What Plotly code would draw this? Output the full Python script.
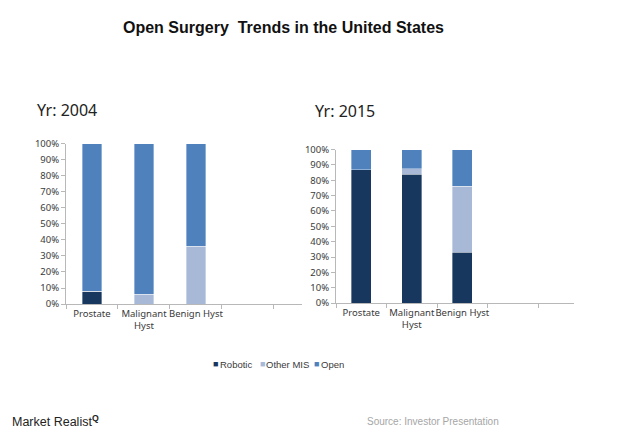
import plotly.graph_objects as go

categories = ["Prostate", "Malignant<br>Hyst", "Benign Hyst"]
y_ticks = [0, 10, 20, 30, 40, 50, 60, 70, 80, 90, 100]
y_tick_labels = ["0%", "10%", "20%", "30%", "40%", "50%", "60%", "70%", "80%", "90%", "100%"]
slot_boundaries = [-0.5, 0.5, 1.5, 2.5, 3.5]

robotic_2004 = [8, 0, 0]
other_2004 = [0, 6, 36]
open_2004 = [92, 94, 64]

robotic_2015 = [87, 84, 33]
other_2015 = [0, 3.5, 43]
open_2015 = [13, 12.5, 24]

series_names = ["Robotic", "Other MIS", "Open"]
colors = ["#17375e", "#a8b9d8", "#4f81bd"]

W, H = 620, 443


def py(ref_px):
    """paper y for a pixel row of the reference (compensates renderer offset)"""
    return 1 - ((ref_px - 7) / 0.967) / H


fig = go.Figure()

for i, (name, vals) in enumerate(zip(series_names, [robotic_2004, other_2004, open_2004])):
    fig.add_trace(go.Bar(x=categories, y=vals, name=name, marker_color=colors[i],
                         marker_line_width=0.6, marker_line_color="rgba(255,255,255,0.6)",
                         width=0.38, xaxis="x", yaxis="y", showlegend=False))
for i, (name, vals) in enumerate(zip(series_names, [robotic_2015, other_2015, open_2015])):
    fig.add_trace(go.Bar(x=categories, y=vals, name=name, marker_color=colors[i],
                         marker_line_width=0.6, marker_line_color="rgba(255,255,255,0.6)",
                         width=0.39, xaxis="x2", yaxis="y2", showlegend=False))

tickfont = dict(family="Noto Sans, Open Sans, sans-serif", size=9.5, color="#3a3a3a")

xcommon = dict(type="category", categoryorder="array", categoryarray=categories,
               ticks="", tickangle=0, showline=True, linecolor="#b8b8b8", linewidth=1,
               showgrid=False, tickfont=tickfont, zeroline=False, fixedrange=True)
xticks_only = dict(type="linear", tickvals=slot_boundaries, showticklabels=False,
                   ticks="outside", ticklen=4, tickcolor="#b8b8b8", showline=False,
                   showgrid=False, zeroline=False, fixedrange=True)
ycommon = dict(range=[0, 100], tickvals=y_ticks, ticktext=y_tick_labels, ticks="outside",
               ticklen=4, tickcolor="#b8b8b8", showline=True, linecolor="#b8b8b8",
               linewidth=1, showgrid=False, zeroline=False, tickfont=tickfont,
               fixedrange=True)

d1 = [66/W, 302/W]
d2 = [336/W, 574/W]
r1 = [-0.5, 4.04]
r2 = [-0.5, 4.21]

fig.update_layout(
    width=W, height=H,
    margin=dict(l=0, r=0, t=0, b=0),
    paper_bgcolor="white", plot_bgcolor="white",
    barmode="stack",
    xaxis=dict(domain=d1, range=r1, anchor="y", **xcommon),
    yaxis=dict(domain=[py(303), py(143)], anchor="x", **ycommon),
    xaxis2=dict(domain=d2, range=r2, anchor="y2", **xcommon),
    yaxis2=dict(domain=[py(302), py(149)], anchor="x2", **ycommon),
    xaxis3=dict(domain=d1, range=r1, anchor="y", overlaying="x", **xticks_only),
    xaxis4=dict(domain=d2, range=r2, anchor="y2", overlaying="x2", **xticks_only),
    showlegend=False,
)

# invisible helper traces so the tick-only axes are drawn
fig.add_trace(go.Scatter(x=[slot_boundaries[0]], y=[0], xaxis="x3", yaxis="y",
                         mode="markers", marker_opacity=0, showlegend=False, hoverinfo="skip"))
fig.add_trace(go.Scatter(x=[slot_boundaries[0]], y=[0], xaxis="x4", yaxis="y2",
                         mode="markers", marker_opacity=0, showlegend=False, hoverinfo="skip"))

arial = "Liberation Sans, Arial, sans-serif"
annotations = [
    dict(text="<b>Open Surgery  Trends in the United States</b>", x=283/W, y=py(27),
         font=dict(family=arial, size=16, color="#111111")),
    dict(text="Yr: 2004", x=35/W, y=py(110), xanchor="left",
         font=dict(family="Noto Sans, Open Sans, sans-serif", size=16, color="#222222")),
    dict(text="Yr: 2015", x=313/W, y=py(111), xanchor="left",
         font=dict(family="Noto Sans, Open Sans, sans-serif", size=16, color="#222222")),
    dict(text="Market Realist<sup><b>Q</b></sup>", x=10/W, y=py(419), xanchor="left",
         font=dict(family=arial, size=12.5, color="#222222")),
    dict(text="Source: Investor Presentation", x=501/W, y=py(420), xanchor="right",
         font=dict(family=arial, size=10, color="#a6a6a6")),
]

# legend drawn as colored squares + labels
legend_sq_x = [211, 258, 312]
legend_tx_x = [218, 264, 319]
for name, col, sx, tx in zip(series_names, colors, legend_sq_x, legend_tx_x):
    annotations.append(dict(text="■", x=sx/W, y=py(363), xanchor="left",
                            font=dict(family=arial, size=9, color=col)))
    annotations.append(dict(text=name, x=tx/W, y=py(363), xanchor="left",
                            font=dict(family=arial, size=9.5, color="#3a3a3a")))

for a in annotations:
    a.update(xref="paper", yref="paper", showarrow=False, yanchor="middle")
    a.setdefault("xanchor", "center")
fig.update_layout(annotations=annotations)

fig.write_html("out.html", config={"displayModeBar": False},
               post_script="document.body.style.margin='0';")
